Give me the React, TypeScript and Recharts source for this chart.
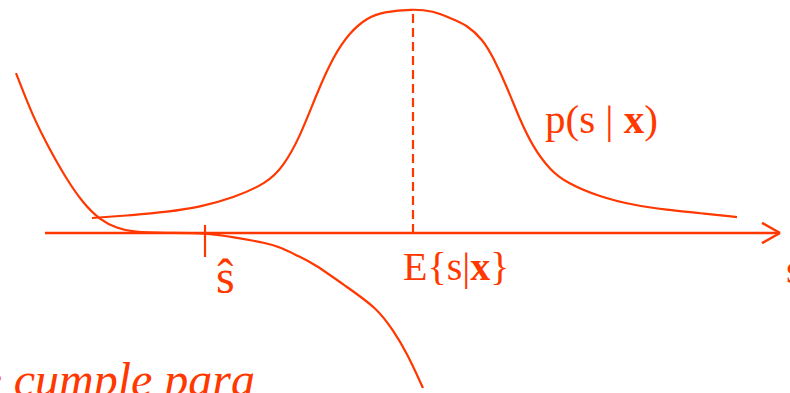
import React from 'react';
import { ComposedChart, Line, XAxis, YAxis, ReferenceLine, ReferenceDot } from 'recharts';

const RED = '#ff3800';
const SERIF = '"Liberation Serif", "Times New Roman", serif';

// posterior p(s | x)
const postS = [-3.21, -2.8, -2.46, -2.13, -1.8, -1.46, -1.3, -1.13, -0.96, -0.8, -0.63, -0.46, -0.3, 0, 0.2, 0.37, 0.54, 0.7, 0.8, 0.94, 1.07, 1.2, 1.37, 1.54, 1.87, 2.2, 2.54, 2.87, 3.24];
const postP = [0.067, 0.08, 0.094, 0.116, 0.156, 0.223, 0.295, 0.429, 0.625, 0.786, 0.897, 0.96, 0.987, 1.0, 0.991, 0.96, 0.929, 0.862, 0.786, 0.652, 0.504, 0.384, 0.281, 0.223, 0.161, 0.125, 0.103, 0.089, 0.071];

// estimation criterion, crosses zero at s-hat
const critS = [-3.97, -3.8, -3.63, -3.46, -3.3, -3.13, -2.96, -2.8, -2.46, -2.08, -1.8, -1.46, -1.33, -1.13, -1.0, -0.66, -0.36, -0.2, -0.06, 0.1];
const critV = [0.714, 0.518, 0.371, 0.237, 0.134, 0.058, 0.022, 0.004, 0.0, 0.0, -0.018, -0.045, -0.063, -0.107, -0.134, -0.241, -0.335, -0.433, -0.536, -0.692];

const S_HAT = -2.08;
const E_S = 0;
const AXIS_FROM = -3.68;
const AXIS_TO = 3.67;

const posterior = postS.map((s, i) => ({ s, p: postP[i] }));
const criterion = critS.map((s, i) => ({ s, v: critV[i] }));
const pMax = Math.max(...postP);

// text placed relative to a data point
function label(content: React.ReactNode, dx: number, dy: number, size = 40, italic = false, anchor = 'start') {
  return (props: any) => (
    <text
      x={props.cx + dx}
      y={props.cy + dy}
      fill={RED}
      fontFamily={SERIF}
      fontSize={size}
      fontStyle={italic ? 'italic' : 'normal'}
      textAnchor={anchor}
    >
      {content}
    </text>
  );
}

export default function App() {
  return (
    <div style={{ position: 'absolute', left: 0, top: 0, width: 790, height: 393, background: '#fff' }}>
      <ComposedChart width={790} height={393} margin={{ top: 0, right: 0, bottom: 0, left: 0 }}>
        <XAxis type="number" dataKey="s" domain={[-4.13, 3.77]} allowDataOverflow hide />
        <YAxis type="number" domain={[-0.714, 1.04]} allowDataOverflow hide />

        {/* s axis with arrow */}
        <ReferenceLine segment={[{ x: AXIS_FROM, y: 0 }, { x: AXIS_TO, y: 0 }]} stroke={RED} strokeWidth={2.5} ifOverflow="visible" />
        <ReferenceLine segment={[{ x: 3.49, y: 0.045 }, { x: AXIS_TO, y: 0 }]} stroke={RED} strokeWidth={2.5} ifOverflow="visible" />
        <ReferenceLine segment={[{ x: 3.49, y: -0.045 }, { x: AXIS_TO, y: 0 }]} stroke={RED} strokeWidth={2.5} ifOverflow="visible" />

        {/* tick at s-hat and dashed mean line */}
        <ReferenceLine segment={[{ x: S_HAT, y: 0.036 }, { x: S_HAT, y: -0.107 }]} stroke={RED} strokeWidth={2.2} ifOverflow="visible" />
        <ReferenceLine segment={[{ x: E_S, y: 0 }, { x: E_S, y: pMax }]} stroke={RED} strokeWidth={2.2} strokeDasharray="9 5" ifOverflow="visible" />

        <Line data={posterior} dataKey="p" type="basis" stroke={RED} strokeWidth={2.2} dot={false} activeDot={false} isAnimationActive={false} />
        <Line data={criterion} dataKey="v" type="basis" stroke={RED} strokeWidth={2.2} dot={false} activeDot={false} isAnimationActive={false} />

        <ReferenceDot x={S_HAT} y={0} r={0} ifOverflow="visible" shape={label('ŝ', 11, 60, 48)} />
        <ReferenceDot
          x={E_S}
          y={0}
          r={0}
          ifOverflow="visible"
          shape={label(<>E{'{'}s|<tspan fontWeight="bold">x</tspan>{'}'}</>, -10, 47)}
        />
        <ReferenceDot
          x={1.32}
          y={0.446}
          r={0}
          ifOverflow="visible"
          shape={label(<>p(s | <tspan fontWeight="bold">x</tspan>)</>, 0, 0, 41)}
        />
        <ReferenceDot x={AXIS_TO} y={0} r={0} ifOverflow="visible" shape={label('s', 6, 50)} />
        <ReferenceDot x={-1.6} y={-0.71} r={0} ifOverflow="visible" shape={label('se cumple para', 2, 4, 48, true, 'end')} />
      </ComposedChart>
    </div>
  );
}
